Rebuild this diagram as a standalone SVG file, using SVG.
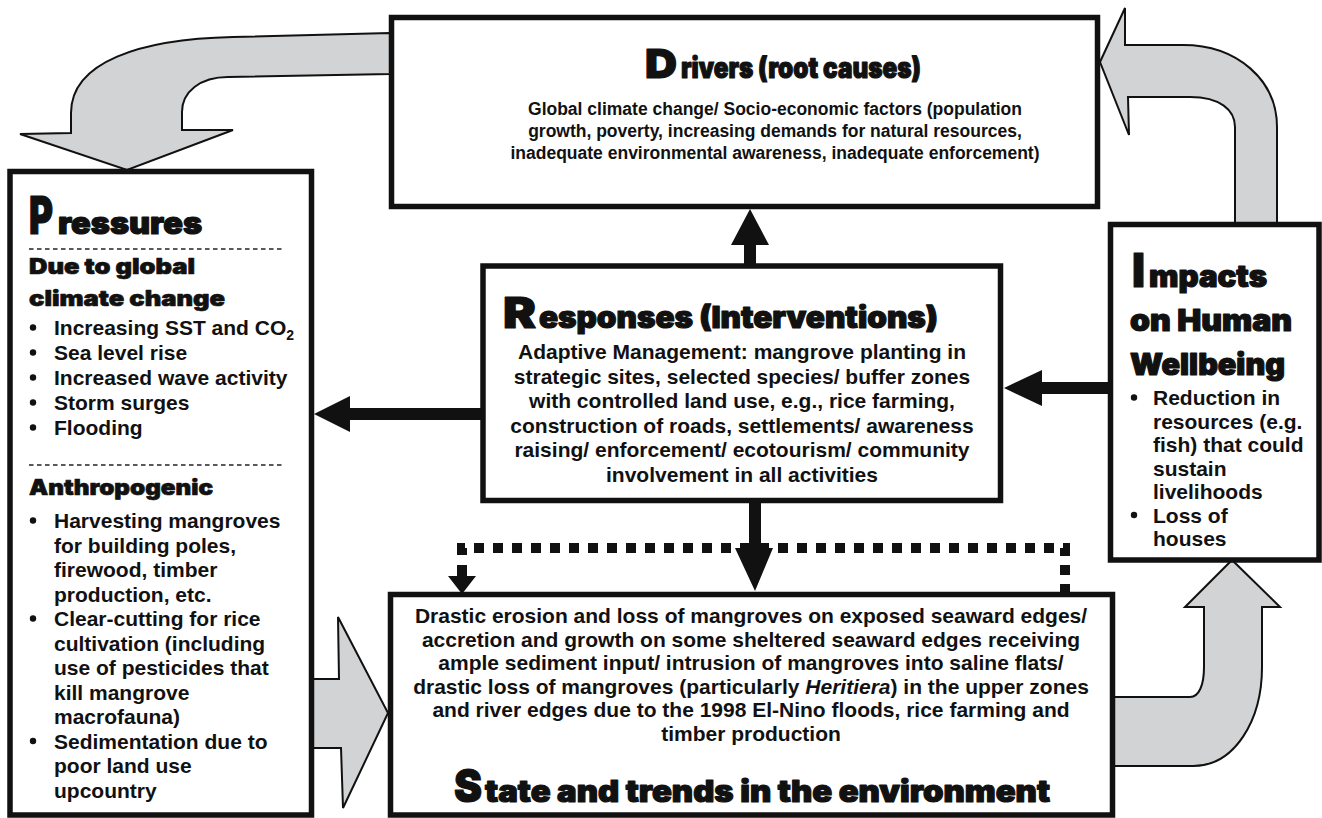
<svg xmlns="http://www.w3.org/2000/svg" width="1322" height="818" viewBox="0 0 1322 818">
  <defs>
    <style>
      .box { fill: #ffffff; stroke: #111111; stroke-width: 5.5; }
      .flow { fill: #d1d3d4; stroke: #111111; stroke-width: 2; stroke-linejoin: miter; }
      .solid { fill: #111111; stroke: none; }
      .dots { fill: none; stroke: #111111; stroke-width: 10; stroke-dasharray: 10 9; }
      .sep { fill: none; stroke: #222222; stroke-width: 1.4; stroke-dasharray: 4.5 3.5; }
      .head { font-family: "Inter", "Roboto", "Liberation Sans", Arial, sans-serif; font-weight: 900; fill: #111111; stroke: #111111; stroke-width: 1.2; stroke-linejoin: round; }
      .sub { font-family: "Inter", "Roboto", "Liberation Sans", Arial, sans-serif; font-weight: 900; font-size: 22px; fill: #111111; stroke: #111111; stroke-width: 0.7; stroke-linejoin: round; }
      .body { font-family: "Liberation Sans", Arial, sans-serif; font-weight: bold; font-size: 21px; fill: #111111; }
      .small { font-family: "Liberation Sans", Arial, sans-serif; font-weight: bold; font-size: 17.5px; fill: #111111; }
      .mid { text-anchor: middle; }
      .dot { fill: #111111; }
    </style>
  </defs>

  <g id="connectors">
    <!-- broad grey loop arrows -->
    <path class="flow" d="M390,33 L233,37 C140,39 71,62 71,113 L71,133 L20,134 L127,170 L233,130 L182,130 L182,112 C182,92 200,77 228,77 L390,74 Z"/>
    <path class="flow" d="M1100,62 L1125,8 L1125,45 L1183,45 C1237,45 1277,80 1277,127 L1277,226 L1235,226 L1235,127 C1235,110 1220,97 1190,97 L1128,97 L1129,135 Z"/>
    <path class="flow" d="M308,679 L339,679 L338,617 L388,713 L343,808 L341,748 L308,748 Z"/>
    <path class="flow" d="M1114,697 L1190,697 C1199,697 1204,685 1204,667 L1204,607 L1185,607 L1232,560 L1280,607 L1262,607 L1262,667 C1262,720 1235,766 1193,766 L1114,766 Z"/>

    <!-- solid arrows around the responses box -->
    <path class="solid" d="M744,266 L744,245 L731,245 L750,209 L769,245 L756,245 L756,266 Z"/>
    <path class="solid" d="M483,408 L350,408 L350,396 L314,414 L350,432 L350,420 L483,420 Z"/>
    <path class="solid" d="M1110,382 L1042,382 L1042,370 L1004,388 L1042,406 L1042,394 L1110,394 Z"/>
    <path class="solid" d="M749,500 L749,548 L735,548 L755,591 L773,548 L761,548 L761,500 Z"/>

    <!-- dotted feedback bracket over the state box -->
    <path class="dots" d="M1065,594 V548 H462 V560"/>
    <path class="solid" d="M457,565 L467,565 L467,576 L476,576 L462,594 L448,576 L457,576 Z"/>
  </g>

  <g id="drivers">
    <rect class="box" x="391.5" y="17.5" width="706" height="189"/>
    <text class="head" x="645" y="78" font-size="40" textLength="32" lengthAdjust="spacingAndGlyphs">D</text>
    <text class="head" x="681" y="78" font-size="29" textLength="240" lengthAdjust="spacingAndGlyphs">rivers (root causes)</text>
    <text class="small mid" x="775" y="115">Global climate change/ Socio-economic factors (population</text>
    <text class="small mid" x="775" y="137">growth, poverty, increasing demands for natural resources,</text>
    <text class="small mid" x="775" y="159">inadequate environmental awareness, inadequate enforcement)</text>
  </g>

  <g id="pressures">
    <rect class="box" x="10" y="171.5" width="301.5" height="643.5"/>
    <text class="head" x="29" y="234" font-size="52" textLength="24" lengthAdjust="spacingAndGlyphs">P</text>
    <text class="head" x="58" y="234" font-size="31" textLength="144" lengthAdjust="spacingAndGlyphs">ressures</text>
    <line class="sep" x1="29" y1="249" x2="283" y2="249"/>
    <text class="sub" x="29" y="274" textLength="166" lengthAdjust="spacingAndGlyphs">Due to global</text>
    <text class="sub" x="29" y="306" textLength="196" lengthAdjust="spacingAndGlyphs">climate change</text>
    <circle class="dot" cx="33" cy="327.5" r="3.2"/>
    <text class="body" x="54" y="335">Increasing SST and CO<tspan font-size="14" dy="5">2</tspan></text>
    <circle class="dot" cx="33" cy="352.5" r="3.2"/>
    <text class="body" x="54" y="360">Sea level rise</text>
    <circle class="dot" cx="33" cy="377.5" r="3.2"/>
    <text class="body" x="54" y="385">Increased wave activity</text>
    <circle class="dot" cx="33" cy="402.5" r="3.2"/>
    <text class="body" x="54" y="410">Storm surges</text>
    <circle class="dot" cx="33" cy="427.5" r="3.2"/>
    <text class="body" x="54" y="435">Flooding</text>
    <line class="sep" x1="29" y1="465" x2="283" y2="465"/>
    <text class="sub" x="29" y="495" textLength="184" lengthAdjust="spacingAndGlyphs">Anthropogenic</text>
    <circle class="dot" cx="33" cy="520.5" r="3.2"/>
    <text class="body" x="54" y="528">Harvesting mangroves</text>
    <text class="body" x="54" y="552.5">for building poles,</text>
    <text class="body" x="54" y="577">firewood, timber</text>
    <text class="body" x="54" y="601.5">production, etc.</text>
    <circle class="dot" cx="33" cy="618.5" r="3.2"/>
    <text class="body" x="54" y="626">Clear-cutting for rice</text>
    <text class="body" x="54" y="650.5">cultivation (including</text>
    <text class="body" x="54" y="675">use of pesticides that</text>
    <text class="body" x="54" y="699.5">kill mangrove</text>
    <text class="body" x="54" y="724">macrofauna)</text>
    <circle class="dot" cx="33" cy="741" r="3.2"/>
    <text class="body" x="54" y="748.5">Sedimentation due to</text>
    <text class="body" x="54" y="773">poor land use</text>
    <text class="body" x="54" y="797.5">upcountry</text>
  </g>

  <g id="responses">
    <rect class="box" x="483" y="266" width="517.5" height="234.5"/>
    <text class="head" x="503" y="328" font-size="42" textLength="33" lengthAdjust="spacingAndGlyphs">R</text>
    <text class="head" x="539" y="328" font-size="30" textLength="399" lengthAdjust="spacingAndGlyphs">esponses (Interventions)</text>
    <text class="body mid" x="742" y="359">Adaptive Management: mangrove planting in</text>
    <text class="body mid" x="742" y="383.5">strategic sites, selected species/ buffer zones</text>
    <text class="body mid" x="742" y="408">with controlled land use, e.g., rice farming,</text>
    <text class="body mid" x="742" y="432.5">construction of roads, settlements/ awareness</text>
    <text class="body mid" x="742" y="457">raising/ enforcement/ ecotourism/ community</text>
    <text class="body mid" x="742" y="481.5">involvement in all activities</text>
  </g>

  <g id="impacts">
    <rect class="box" x="1110.5" y="224.5" width="208.5" height="335.5"/>
    <text class="head" x="1132" y="287" font-size="47" textLength="13" lengthAdjust="spacingAndGlyphs">I</text>
    <text class="head" x="1149" y="287" font-size="30" textLength="118" lengthAdjust="spacingAndGlyphs">mpacts</text>
    <text class="head" x="1130" y="331" font-size="30" textLength="162" lengthAdjust="spacingAndGlyphs">on Human</text>
    <text class="head" x="1130" y="375" font-size="30" textLength="155" lengthAdjust="spacingAndGlyphs">Wellbeing</text>
    <circle class="dot" cx="1134" cy="397.5" r="3.2"/>
    <text class="body" x="1153" y="405">Reduction in</text>
    <text class="body" x="1153" y="428.5">resources (e.g.</text>
    <text class="body" x="1153" y="452">fish) that could</text>
    <text class="body" x="1153" y="475.5">sustain</text>
    <text class="body" x="1153" y="499">livelihoods</text>
    <circle class="dot" cx="1134" cy="515" r="3.2"/>
    <text class="body" x="1153" y="522.5">Loss of</text>
    <text class="body" x="1153" y="546">houses</text>
  </g>

  <g id="state">
    <rect class="box" x="390.5" y="594.5" width="722" height="220.5"/>
    <text class="body mid" x="751" y="623">Drastic erosion and loss of mangroves on exposed seaward edges/</text>
    <text class="body mid" x="751" y="646.5">accretion and growth on some sheltered seaward edges receiving</text>
    <text class="body mid" x="751" y="670">ample sediment input/ intrusion of mangroves into saline flats/</text>
    <text class="body mid" x="751" y="693.5">drastic loss of mangroves (particularly <tspan font-style="italic">Heritiera</tspan>) in the upper zones</text>
    <text class="body mid" x="751" y="717">and river edges due to the 1998 El-Nino floods, rice farming and</text>
    <text class="body mid" x="751" y="740.5">timber production</text>
    <text class="head" x="454" y="802" font-size="46" textLength="28" lengthAdjust="spacingAndGlyphs">S</text>
    <text class="head" x="485" y="802" font-size="30" textLength="565" lengthAdjust="spacingAndGlyphs">tate and trends in the environment</text>
  </g>
</svg>
